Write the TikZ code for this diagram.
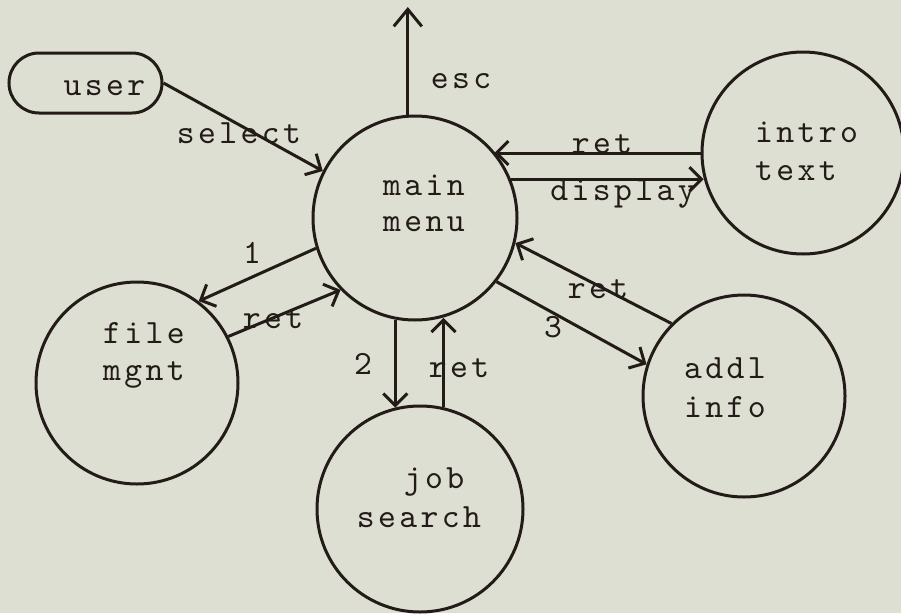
\documentclass[tikz,border=0pt]{standalone}
\usepackage{fontspec}
\usetikzlibrary{arrows.meta,shapes.misc}
% typewriter face with a little extra tracking
\newfontfamily\tw{lmmono10-regular.otf}[LetterSpace=10]
\definecolor{paper}{RGB}{221,223,211}
\definecolor{ink}{RGB}{34,27,23}
\begin{document}
\begin{tikzpicture}[x=1pt,y=-1pt,
  bubble/.style={circle,draw=ink,line width=3pt,minimum size=#1,inner sep=0pt},
  terminal/.style={rounded rectangle,draw=ink,line width=3pt,minimum width=153pt,minimum height=60pt,inner sep=0pt},
  txt/.style={font=\tw\fontsize{34}{36}\selectfont,text=ink,inner sep=0pt,anchor=base},
  flow/.style={draw=ink,line width=3pt,-{Straight Barb[length=12pt,width=24pt]}},
  bigflow/.style={flow,-{Straight Barb[length=17pt,width=28pt]}}]
\fill[paper] (0,0) rectangle (901,613);
\useasboundingbox (0,0) rectangle (901,613);

% processes and the terminator
\node[bubble=204pt] (M) at (415,218) {};
\node[bubble=202pt] (I) at (803,153) {};
\node[bubble=202pt] (F) at (137,383) {};
\node[bubble=206pt] (J) at (420,509) {};
\node[bubble=202pt] (A) at (744,396) {};
\node[terminal] (U) at (85.5,83) {};

% names written inside the shapes
\node[txt] (Ut) at (104.5,95) {user};
\node[txt] (Ma) at (424,195) {main};
\node[txt] (Mb) at (424,231) {menu};
\node[txt,anchor=base west] (Ia) at (755,142) {intro};
\node[txt,anchor=base west] (Ib) at (755,180) {text};
\node[txt] (Fa) at (144,343) {file};
\node[txt] (Fb) at (144,380) {mgnt};
\node[txt] (Ja) at (434,488) {job};
\node[txt] (Jb) at (419,527) {search};
\node[txt] (Aa) at (725,378) {addl};
\node[txt] (Ab) at (725,417) {info};

% flows
\coordinate (out) at (408,7);
\draw[bigflow] (M.94) -- (M.94 |- out);
\draw[flow] (U.east) -- (M.153);
\draw[flow] (I.west) -- (I.west -| M.40);
\draw[flow] (M.22) -- (M.22 -| I.194);
\draw[flow] (M.197) -- (F.53);
\draw[flow] (F.27) -- (M.224);
\draw[flow] (M.259) -- (M.259 |- J.104);
\draw[flow] (J.77) -- (J.77 |- M.285);
\draw[flow] (M.322) -- (A.162);
\draw[flow] (A.135) -- (M.346);

% flow labels
\node[txt] (lsel) at (239,143) {select};
\node[txt] (lesc) at (461,88) {esc};
\node[txt] (lret1) at (602,153) {ret};
\node[txt] (ldisp) at (623,200) {display};
\node[txt] (l1) at (252,263) {1};
\node[txt] (lret2) at (273,328) {ret};
\node[txt] (l2) at (363,374) {2};
\node[txt] (lret3) at (459,377) {ret};
\node[txt] (l3) at (553,337) {3};
\node[txt] (lret4) at (598,298) {ret};
\end{tikzpicture}
\end{document}
